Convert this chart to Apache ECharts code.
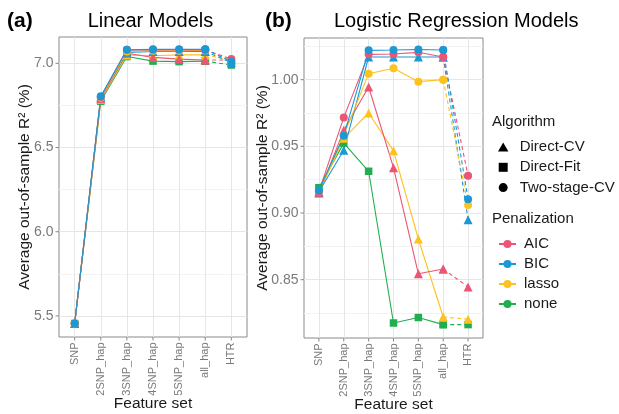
<!DOCTYPE html>
<html>
<head>
<meta charset="utf-8">
<script src="https://cdn.jsdelivr.net/npm/echarts@6/dist/echarts.min.js"></script>
<style>
html, body {margin: 0; background: #fff;}
#chart {width: 619px; height: 414px;}
</style>
</head>
<body>
<div id="chart"></div>
<script>
var featureSets = ['SNP', '2SNP_hap', '3SNP_hap', '4SNP_hap', '5SNP_hap', 'all_hap', 'HTR'];
var algorithms = ['Direct-CV', 'Direct-Fit', 'Two-stage-CV'];
var penalties = ['AIC', 'BIC', 'lasso', 'none'];

// (a) linear models, average out-of-sample R2 (%)
var linAicTwoStage   = [5.455, 6.800, 7.080, 7.080, 7.080, 7.080, 7.025];
var linBicTwoStage   = [5.455, 6.805, 7.080, 7.083, 7.083, 7.083, 7.010];
var linLassoTwoStage = [5.455, 6.795, 7.070, 7.075, 7.075, 7.078, 7.015];
var linAicCV         = [5.455, 6.790, 7.060, 7.035, 7.025, 7.020, 7.020];
var linBicCV         = [5.455, 6.800, 7.065, 7.070, 7.070, 7.070, 7.005];
var linLassoCV       = [5.455, 6.785, 7.050, 7.045, 7.050, 7.050, 7.020];
var linNoneFit       = [5.455, 6.775, 7.040, 7.013, 7.010, 7.013, 6.990];

// (b) logistic regression models
var logAicTwoStage   = [0.916, 0.9717, 1.0190, 1.0193, 1.0205, 1.0170, 0.928];
var logBicTwoStage   = [0.917, 0.9580, 1.0220, 1.0222, 1.0226, 1.0223, 0.9103];
var logLassoTwoStage = [0.916, 0.9580, 1.0045, 1.0085, 0.9985, 1.0000, 0.906];
var logAicCV         = [0.915, 0.9620, 0.9945, 0.9340, 0.8544, 0.8580, 0.8445];
var logBicCV         = [0.916, 0.9470, 1.0170, 1.0170, 1.0170, 1.0170, 0.895];
var logLassoCV       = [0.915, 0.9560, 0.9750, 0.9466, 0.8805, 0.8220, 0.8203];
var logNoneFit       = [0.919, 0.9524, 0.9313, 0.8175, 0.8216, 0.8163, 0.8163];

var linearLines = [
    {pen: 'none', alg: 'Direct-Fit', values: linNoneFit},
    {pen: 'lasso', alg: 'Direct-CV', values: linLassoCV},
    {pen: 'AIC', alg: 'Direct-CV', values: linAicCV},
    {pen: 'BIC', alg: 'Direct-CV', values: linBicCV},
    {pen: 'lasso', alg: 'Two-stage-CV', values: linLassoTwoStage},
    {pen: 'AIC', alg: 'Two-stage-CV', values: linAicTwoStage},
    {pen: 'BIC', alg: 'Two-stage-CV', values: linBicTwoStage}
];
var logisticLines = [
    {pen: 'none', alg: 'Direct-Fit', values: logNoneFit},
    {pen: 'lasso', alg: 'Direct-CV', values: logLassoCV},
    {pen: 'AIC', alg: 'Direct-CV', values: logAicCV},
    {pen: 'BIC', alg: 'Direct-CV', values: logBicCV},
    {pen: 'lasso', alg: 'Two-stage-CV', values: logLassoTwoStage},
    {pen: 'AIC', alg: 'Two-stage-CV', values: logAicTwoStage},
    {pen: 'BIC', alg: 'Two-stage-CV', values: logBicTwoStage}
];

var penColors = {AIC: '#EC5574', BIC: '#1C98D4', lasso: '#FCC21F', none: '#21AD50'};
var algSymbols = {'Direct-CV': 'triangle', 'Direct-Fit': 'rect', 'Two-stage-CV': 'circle'};
var algSizes = {'Direct-CV': 9, 'Direct-Fit': 7.5, 'Two-stage-CV': 8};
var algIcons = {
    'Direct-CV': 'path://M5,0L10,8.66L0,8.66Z',
    'Direct-Fit': 'path://M0,0L10,0L10,10L0,10Z',
    'Two-stage-CV': 'path://M5,0A5,5,0,1,1,5,10A5,5,0,1,1,5,0Z'
};

var FONT = '"Liberation Sans", Arial, sans-serif';
var NONE = 'rgba(0,0,0,0)';
var MAJOR = '#E6E6E6';
var MINOR = '#F3F3F3';
var TICK_COLOR = '#888';
var LABEL_COLOR = '#7a7a7a';

var chart = echarts.init(document.getElementById('chart'), null, {renderer: 'canvas'});

var series = [];
function addLines(list, idx) {
    list.forEach(function(s) {
        var color = penColors[s.pen];
        var base = {
            type: 'line',
            xAxisIndex: idx,
            yAxisIndex: idx,
            symbol: algSymbols[s.alg],
            symbolSize: algSizes[s.alg],
            showSymbol: true,
            itemStyle: {color: color, borderWidth: 0},
            emphasis: {disabled: true},
            animation: false,
            silent: true
        };
        var solid = s.values.slice(0, 6).map(function(v, i) { return [i, v]; });
        var dashed = [[5, s.values[5]], [6, s.values[6]]];
        series.push(Object.assign({}, base, {
            name: s.pen + '|' + s.alg + '|' + idx,
            data: solid,
            lineStyle: {color: color, width: 1.1}
        }));
        series.push(Object.assign({}, base, {
            name: s.pen + '|' + s.alg + '|' + idx + '|d',
            data: dashed,
            lineStyle: {color: color, width: 1.1, type: [4, 3]}
        }));
    });
}
addLines(linearLines, 0);
addLines(logisticLines, 1);

// series only used for the legends
algorithms.forEach(function(a) {
    series.push({name: a, type: 'line', data: [], xAxisIndex: 1, yAxisIndex: 1,
        itemStyle: {color: '#000'}, lineStyle: {color: '#000'}});
});
penalties.forEach(function(p) {
    series.push({name: p, type: 'line', data: [], xAxisIndex: 1, yAxisIndex: 1,
        symbol: 'circle', symbolSize: 8,
        itemStyle: {color: penColors[p], borderWidth: 0}, lineStyle: {color: penColors[p], width: 1.2}});
});

function near(v, step) {
    var r = Math.round(v / step);
    return Math.abs(v / step - r) < 1e-6;
}
var tickRich = {
    l: {fontSize: 14, color: LABEL_COLOR, fontFamily: FONT},
    g: {width: 2},
    t: {width: 3.5, height: 1, backgroundColor: TICK_COLOR}
};
var xTickRich = {
    l: {fontSize: 11, color: LABEL_COLOR, fontFamily: FONT},
    g: {width: 2},
    t: {width: 3.5, height: 1, backgroundColor: TICK_COLOR}
};

function makeX(idx) {
    return {
        type: 'value', gridIndex: idx,
        min: -0.6, max: 6.6, interval: 0.2,
        axisLine: {show: false}, axisTick: {show: false},
        axisLabel: {
            rotate: 90, margin: 0, hideOverlap: false,
            formatter: function(v) {
                var r = Math.round(v);
                if (near(v, 1) && r >= 0 && r < featureSets.length) {
                    return '{l|' + featureSets[r] + '}{g|}{t|}';
                }
                return '';
            },
            rich: xTickRich
        },
        splitLine: {show: true, lineStyle: {width: 1, color: [NONE, NONE, NONE, MAJOR, NONE]}},
        name: 'Feature set', nameLocation: 'middle', nameGap: 59, nameMoveOverlap: false,
        nameTextStyle: {fontSize: 15.5, color: '#1a1a1a', fontFamily: FONT}
    };
}

var linColors = [];
for (var i = 0; i < 16; i++) linColors.push(i === 4 ? MAJOR : (i === 12 ? MINOR : NONE));
var logColors = [];
for (var j = 0; j < 8; j++) logColors.push(j === 7 ? MAJOR : (j === 3 ? MINOR : NONE));

var yName = 'Average out-of-sample R\u00b2 (%)';

chart.setOption({
    backgroundColor: '#fff',
    animation: false,
    textStyle: {fontFamily: FONT},
    grid: [
        {left: 59, right: 372, top: 37, bottom: 77, show: true, borderColor: '#8a8a8a', borderWidth: 1,
            backgroundColor: NONE, outerBoundsMode: 'none', containLabel: false},
        {left: 304, right: 136, top: 38, bottom: 76, show: true, borderColor: '#8a8a8a', borderWidth: 1,
            backgroundColor: NONE, outerBoundsMode: 'none', containLabel: false}
    ],
    xAxis: [makeX(0), makeX(1)],
    yAxis: [
        {
            type: 'value', gridIndex: 0,
            min: 5.375, max: 7.15625, interval: 0.03125,
            axisLine: {show: false}, axisTick: {show: false},
            axisLabel: {
                margin: 0, hideOverlap: false,
                formatter: function(v) { return near(v, 0.5) ? '{l|' + v.toFixed(1) + '}{g|}{t|}' : ''; },
                rich: tickRich
            },
            splitLine: {show: true, lineStyle: {width: 1, color: linColors}},
            name: yName, nameLocation: 'middle', nameGap: 26, nameMoveOverlap: false,
            nameTextStyle: {fontSize: 15.5, color: '#1a1a1a', fontFamily: FONT}
        },
        {
            type: 'value', gridIndex: 1,
            min: 0.80625, max: 1.03125, interval: 0.00625,
            axisLine: {show: false}, axisTick: {show: false},
            axisLabel: {
                margin: 0, hideOverlap: false,
                formatter: function(v) { return near(v, 0.05) ? '{l|' + v.toFixed(2) + '}{g|}{t|}' : ''; },
                rich: tickRich
            },
            splitLine: {show: true, lineStyle: {width: 1, color: logColors}},
            name: yName, nameLocation: 'middle', nameGap: 33, nameMoveOverlap: false,
            nameTextStyle: {fontSize: 15.5, color: '#1a1a1a', fontFamily: FONT}
        }
    ],
    legend: [
        {
            data: algorithms.map(function(a) { return {name: a, icon: algIcons[a]}; }),
            orient: 'vertical', left: 493, top: 134.5,
            itemWidth: 17, itemHeight: 9, itemGap: 5.3,
            selectedMode: false, symbolKeepAspect: true,
            textStyle: {fontSize: 15, color: '#1a1a1a', fontFamily: FONT, padding: [0, 0, 0, 3]}
        },
        {
            data: penalties,
            orient: 'vertical', left: 493, top: 231.5,
            itemWidth: 17, itemHeight: 10, itemGap: 5,
            selectedMode: false,
            textStyle: {fontSize: 15, color: '#1a1a1a', fontFamily: FONT, padding: [0, 0, 0, 3]}
        }
    ],
    graphic: [
        {type: 'text', x: 7, y: 21, style: {text: '(a)', font: 'bold 21px ' + FONT, fill: '#000', align: 'left', verticalAlign: 'middle'}},
        {type: 'text', x: 150.5, y: 21, style: {text: 'Linear Models', font: '20px ' + FONT, fill: '#000', align: 'center', verticalAlign: 'middle'}},
        {type: 'text', x: 265, y: 21, style: {text: '(b)', font: 'bold 21px ' + FONT, fill: '#000', align: 'left', verticalAlign: 'middle'}},
        {type: 'text', x: 334, y: 21, style: {text: 'Logistic Regression Models', font: '20px ' + FONT, fill: '#000', align: 'left', verticalAlign: 'middle'}},
        {type: 'text', x: 492, y: 122, style: {text: 'Algorithm', font: '15px ' + FONT, fill: '#1a1a1a', align: 'left', verticalAlign: 'middle'}},
        {type: 'text', x: 492, y: 219, style: {text: 'Penalization', font: '15px ' + FONT, fill: '#1a1a1a', align: 'left', verticalAlign: 'middle'}}
    ],
    series: series
});
</script>
</body>
</html>
